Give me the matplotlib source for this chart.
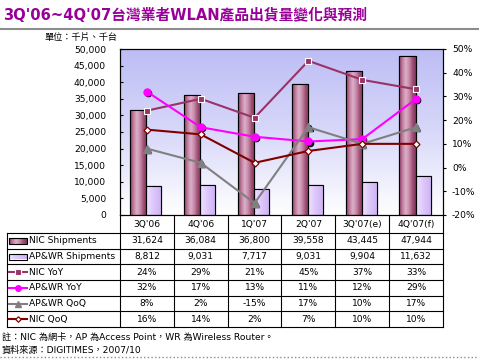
import numpy as np
import matplotlib
matplotlib.use('Agg')
import matplotlib.pyplot as plt
import matplotlib.transforms as mtransforms
from matplotlib.colors import LinearSegmentedColormap
from matplotlib.patches import Rectangle
from matplotlib.lines import Line2D

plt.rcParams['font.family'] = ['DejaVu Sans', 'Noto Sans CJK TC']

#%% Datos
categorias = ["3Q'06", "4Q'06", "1Q'07", "2Q'07", "3Q'07(e)", "4Q'07(f)"]
nic_ship = [31624, 36084, 36800, 39558, 43445, 47944]
ap_ship = [8812, 9031, 7717, 9031, 9904, 11632]
nic_yoy = [24, 29, 21, 45, 37, 33]
ap_yoy = [32, 17, 13, 11, 12, 29]
ap_qoq = [8, 2, -15, 17, 10, 17]
nic_qoq = [16, 14, 2, 7, 10, 10]

titulo = "3Q'06~4Q'07台灣業者WLAN產品出貨量變化與預測"
unidad = "單位：千片、千台"
nota1 = "註：NIC 為網卡，AP 為Access Point，WR 為Wireless Router。"
nota2 = "資料來源：DIGITIMES，2007/10"

c_nic = '#993366'
c_apyoy = '#ff00ff'
c_qoq = '#808080'
c_nicqoq = '#800000'
fs = 6.6

W, H = 479, 359
fig = plt.figure(figsize=(W/100, H/100), dpi=100)

def fx(x):
    return x / W

def fy(y):
    return 1 - y / H

# area del grafico (pixeles)
L, R, T, B = 120, 443, 49, 215
ax = fig.add_axes([fx(L), fy(B), fx(R - L), (B - T) / H])
x = np.arange(len(categorias))

# fondo degradado
bg = LinearSegmentedColormap.from_list('bg', ['#bdbdf5', '#d8d8fa', '#ffffff'])
ax.imshow(np.linspace(0, 1, 256).reshape(-1, 1), extent=[-0.5, 5.5, 0, 50000],
          cmap=bg, aspect='auto', zorder=0)

cm_nic = LinearSegmentedColormap.from_list('nic', ['#8a3a62', '#c07c9e', '#dcb0c8', '#c88aa8', '#a05078', '#80345a'])
cm_ap = LinearSegmentedColormap.from_list('ap', ['#eee2ff', '#dcc6fa', '#cdb0f2'])

b1 = ax.bar(x - 0.16, nic_ship, 0.30, color='#b0608a', edgecolor='black', linewidth=0.8, zorder=2)
b2 = ax.bar(x + 0.13, ap_ship, 0.28, color='#d8c0f8', edgecolor='black', linewidth=0.8, zorder=2)
grad = np.linspace(0, 1, 64).reshape(1, -1)
for bars, cm in [(b1, cm_nic), (b2, cm_ap)]:
    for p in bars:
        x0, y0 = p.get_x(), p.get_y()
        im = ax.imshow(grad, extent=[x0, x0 + p.get_width(), y0, y0 + p.get_height()],
                       cmap=cm, aspect='auto', zorder=2.5)
        im.set_clip_path(p)
        ax.add_patch(Rectangle((x0, y0), p.get_width(), p.get_height(), fill=False,
                               edgecolor='black', linewidth=0.8, zorder=3))

ax.set_xlim(-0.5, 5.5)
ax.set_ylim(0, 50000)
ax.set_yticks(np.arange(0, 50001, 5000))
ax.set_yticklabels([f'{v:,}' for v in range(0, 50001, 5000)])
ax.set_xticks([])
ax.tick_params(axis='y', direction='in', length=2.5, pad=10, labelsize=fs)
for s in ax.spines.values():
    s.set_linewidth(0.8)

# eje secundario
ax2 = ax.twinx()
ax2.set_ylim(-20, 50)
ax2.set_yticks(np.arange(-20, 51, 10))
ax2.set_yticklabels([f'{v}%' for v in range(-20, 51, 10)])
ax2.tick_params(axis='y', direction='out', length=2.5, pad=4, labelsize=fs)
for s in ax2.spines.values():
    s.set_linewidth(0.8)

estilos = [
    (nic_yoy, dict(color=c_nic, marker='s', mfc=c_nic, mec='white', ms=5, mew=0.8)),
    (ap_yoy, dict(color=c_apyoy, marker='o', mfc=c_apyoy, mec=c_apyoy, ms=5)),
    (ap_qoq, dict(color=c_qoq, marker='^', mfc=c_qoq, mec=c_qoq, ms=5.5)),
    (nic_qoq, dict(color=c_nicqoq, marker='D', mfc='white', mec=c_nicqoq, ms=3.5, mew=0.9)),
]
# sombra de los marcadores
sombra = mtransforms.offset_copy(ax2.transData, fig=fig, x=0.8, y=-0.8, units='points')
for k, (serie, st) in enumerate(estilos):
    if k in (1, 2):
        ax2.plot(x, serie, ls='none', marker=st['marker'], ms=st['ms'] - 0.5, color='black',
                 transform=sombra, zorder=3.9)
    ax2.plot(x, serie, lw=1.5, zorder=4, **st)

#%% Capa superior en pixeles (titulo, tabla, notas)
ov = fig.add_axes([0, 0, 1, 1])
ov.set_xlim(0, W)
ov.set_ylim(H, 0)
ov.axis('off')

ov.text(3, 15, titulo, fontsize=10.6, fontweight='bold', color='#990099', va='center', ha='left')
ov.add_line(Line2D([0, W], [29, 29], color='#8c8c8c', lw=1.5))
ov.text(45, 37, unidad, fontsize=fs, va='center', ha='left')

colw = (R - L) / len(categorias)
cols = [L + i * colw for i in range(len(categorias) + 1)]
# fila de categorias
for i, c in enumerate(categorias):
    ov.text(L + (i + 0.5) * colw, 224, c, fontsize=fs, ha='center', va='center')
for cx in cols:
    ov.add_line(Line2D([cx, cx], [B, 327], color='black', lw=0.8))

top_t, bot_t = 233, 327
rh = (bot_t - top_t) / 6
for k in range(7):
    yy = top_t + k * rh
    ov.add_line(Line2D([7, R], [yy, yy], color='black', lw=0.8))
ov.add_line(Line2D([7, 7], [top_t, bot_t], color='black', lw=0.8))

nombres = ['NIC Shipments', 'AP&WR Shipments', 'NIC YoY', 'AP&WR YoY', 'AP&WR QoQ', 'NIC QoQ']
filas = [[f'{v:,}' for v in nic_ship], [f'{v:,}' for v in ap_ship],
         [f'{v}%' for v in nic_yoy], [f'{v}%' for v in ap_yoy],
         [f'{v}%' for v in ap_qoq], [f'{v}%' for v in nic_qoq]]
for k, (nom, vals) in enumerate(zip(nombres, filas)):
    yc = top_t + (k + 0.5) * rh
    ov.text(29, yc, nom, fontsize=fs, ha='left', va='center')
    for i, v in enumerate(vals):
        ov.text(L + (i + 0.5) * colw, yc, v, fontsize=fs, ha='center', va='center')
    if k < 2:
        cm = cm_nic if k == 0 else cm_ap
        r = Rectangle((9, yc - 3), 18, 6, facecolor='none', edgecolor='black', lw=0.8, zorder=3)
        ov.add_patch(r)
        im = ov.imshow(grad, extent=[9, 27, yc + 3, yc - 3], cmap=cm, aspect='auto', zorder=2)
        im.set_clip_path(r)
    else:
        st = dict(estilos[k - 2][1])
        st['ms'] = st['ms'] * 0.8
        ov.plot([9, 18, 27], [yc, yc, yc], lw=1.5, markevery=[1], **st)
ov.set_xlim(0, W)
ov.set_ylim(H, 0)

ov.text(2, 337, nota1, fontsize=fs, ha='left', va='center')
ov.text(2, 350, nota2, fontsize=fs, ha='left', va='center')
ov.add_line(Line2D([0, W], [356.5, 356.5], color='#8c8c8c', lw=1, ls=':'))

fig.savefig('out.png', dpi=100)
